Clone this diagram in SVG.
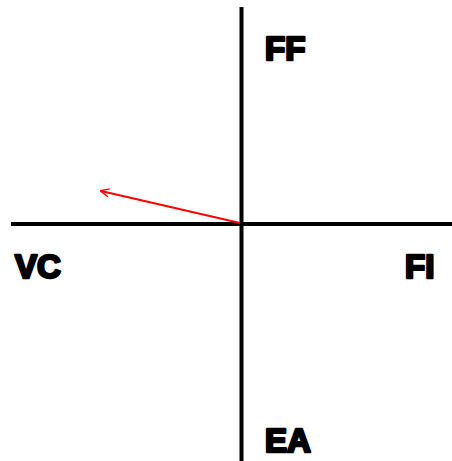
<svg xmlns="http://www.w3.org/2000/svg" width="452" height="461" viewBox="0 0 452 461">
<style>
.axis{stroke:#000;stroke-width:4;fill:none}
.lbl{font-family:"Liberation Sans",Arial,sans-serif;font-weight:bold;font-size:33px;fill:#000;stroke:#000;stroke-width:2.6;stroke-linejoin:round}
</style>
<defs>
<marker id="ah" viewBox="0 0 10 10" refX="9" refY="5" markerWidth="9" markerHeight="9" orient="auto" markerUnits="userSpaceOnUse">
<path d="M0,0.5 L10,5 L0,9.5" fill="none" stroke="#f00" stroke-width="1.6"/>
</marker>
</defs>
<rect width="452" height="461" fill="#fff"/>
<g id="connectors">
<line class="axis" x1="241.5" y1="7" x2="241.5" y2="461"/>
<line class="axis" x1="11" y1="224" x2="452" y2="224"/>
<line x1="240" y1="223" x2="101" y2="191" stroke="#f00" stroke-width="2.2" marker-end="url(#ah)"/>
</g>
<g id="FF"><text class="lbl" x="265" y="60">FF</text></g>
<g id="VC"><text class="lbl" x="15" y="278">VC</text></g>
<g id="FI"><text class="lbl" x="405" y="278">FI</text></g>
<g id="EA"><text class="lbl" x="265" y="452">EA</text></g>
</svg>
